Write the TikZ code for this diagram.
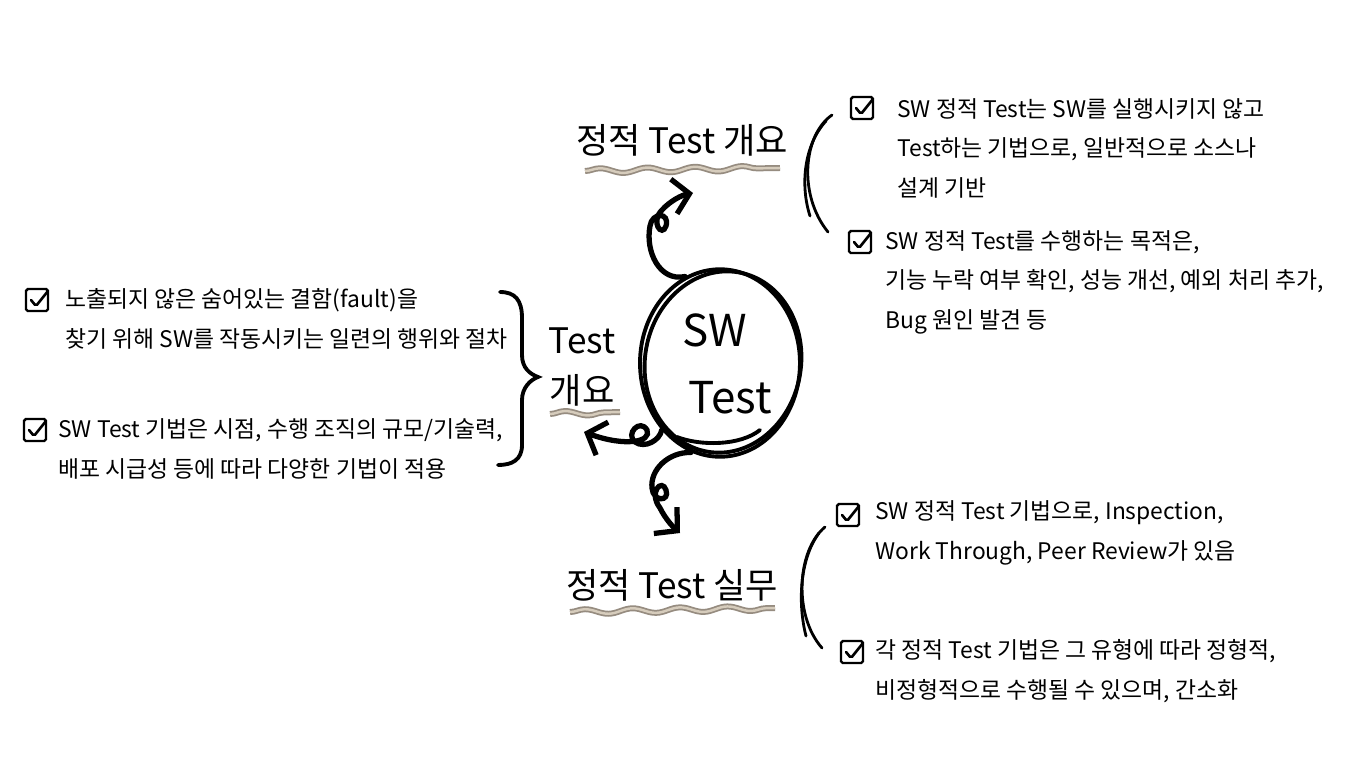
\documentclass[tikz,border=0pt]{standalone}
\usepackage{fontspec}
\setmainfont{Noto Sans CJK KR}
\usetikzlibrary{arrows.meta, shapes.geometric, decorations.pathmorphing}
\definecolor{wavetan}{RGB}{214,204,188}
\definecolor{wavegray}{RGB}{150,140,128}

\begin{document}
\begin{tikzpicture}[x=0.02cm, y=-0.02cm,
  item/.style={anchor=west, align=left, inner sep=0pt, font=\fontsize{13}{22.5}\selectfont},
  title/.style={inner sep=0pt, align=center, font=\fontsize{20}{29}\selectfont},
  big/.style={inner sep=0pt, font=\fontsize{25}{30}\selectfont},
  chk/.style={draw, line width=1.4pt, rounded corners=1pt, minimum size=0.44cm, inner sep=0pt,
              path picture={\draw[line width=1.5pt, line cap=round]
                (path picture bounding box.center) ++(-6,0) -- ++(5,6) -- ++(12,-15);}},
  curl/.style={line width=3pt, line cap=round,
               -{Straight Barb[length=9pt, width=20pt, line width=3pt]}},
  ring/.style={line width=2.2pt},
  wave/.style={decorate, decoration={snake, segment length=0.95cm, amplitude=0.05cm}},
  hand/.style={line width=1.6pt, line cap=round}
]
  \useasboundingbox (0,0) rectangle (1370,762);
  \fill[white] (0,0) rectangle (1370,762);

  % centre
  \node[draw, ring, ellipse, minimum width=3.2cm, minimum height=3.75cm, inner sep=0pt]
    (swtest) at (720,363) {};
  \draw[ring, rotate around={-10:(723,362)}] (723,362) ellipse [x radius=78, y radius=91];
  \node[big] (sw) at (715,330) {SW};
  \node[big] (test) at (730,398) {Test};
  \draw[ring, line cap=round] (677,437) .. controls (700,446) and (740,446) .. (760,430);

  % titles
  \node[title] (ttl1) at (682,140) {정적 Test 개요};
  \node[title] (ttl2) at (582,367) {Test\\개요};
  \node[title] (ttl3) at (672,585) {정적 Test 실무};

  \draw[wave, line width=3.4pt, wavegray] (585,171) -- (780,168);
  \draw[wave, line width=1.4pt, wavetan] (585,171) -- (780,168);
  \draw[wave, line width=3.4pt, wavegray] (550,414) -- (620,412);
  \draw[wave, line width=1.4pt, wavetan] (550,414) -- (620,412);
  \draw[wave, line width=3.4pt, wavegray] (570,612) -- (775,608);
  \draw[wave, line width=1.4pt, wavetan] (570,612) -- (775,608);

  % curly arrows
  \coordinate (tipT) at (693,193);
  \coordinate (tipL) at (584,432);
  \coordinate (tipB) at (680,533);
  \draw[curl] (swtest.112) .. controls (660,282) and (645,252) .. (650,226)
    .. controls (652,212) and (670,212) .. (666,226)
    .. controls (662,238) and (650,222) .. (662,210)
    .. controls (670,201) and (682,195) .. (tipT);
  \draw[curl] (swtest.229) .. controls (660,440) and (645,449) .. (635,442)
    .. controls (625,434) and (640,418) .. (647,430)
    .. controls (652,442) and (625,447) .. (tipL);
  \draw[curl] (swtest.252) .. controls (668,452) and (650,470) .. (652,488)
    .. controls (653,502) and (670,502) .. (666,490)
    .. controls (662,478) and (648,492) .. (660,508)
    .. controls (665,518) and (672,526) .. (tipB);

  % brace and arcs
  \draw[line width=2.2pt, line cap=round] (500,292) .. controls (515,292) and (522,300) .. (522,318)
    -- (522,355) .. controls (522,368) and (530,374) .. (538,377)
    .. controls (530,380) and (522,388) .. (522,400) -- (522,445)
    .. controls (522,460) and (512,465) .. (498,465);
  \draw[hand] (832,115) .. controls (803,135) and (798,195) .. (828,232);
  \draw[hand] (826,121) .. controls (804,145) and (800,185) .. (810,216);
  \draw[hand] (825,527) .. controls (797,550) and (793,615) .. (822,648);
  \draw[hand] (819,533) .. controls (799,560) and (798,605) .. (806,636);

  % items
  \node[chk] (c1) at (862,108) {};
  \node[item] (t1) at (897,148) {SW 정적 Test는 SW를 실행시키지 않고\\Test하는 기법으로, 일반적으로 소스나\\설계 기반};
  \node[chk] (c2) at (860,242) {};
  \node[item] (t2) at (885,282) {SW 정적 Test를 수행하는 목적은,\\기능 누락 여부 확인, 성능 개선, 예외 처리 추가,\\Bug 원인 발견 등};
  \node[chk] (c3) at (37,300) {};
  \node[item] (t3) at (65,319) {노출되지 않은 숨어있는 결함(fault)을\\찾기 위해 SW를 작동시키는 일련의 행위와 절차};
  \node[chk] (c4) at (35,430) {};
  \node[item] (t4) at (58,449) {SW Test 기법은 시점, 수행 조직의 규모/기술력,\\배포 시급성 등에 따라 다양한 기법이 적용};
  \node[chk] (c5) at (848,515) {};
  \node[item] (t5) at (875,533) {SW 정적 Test 기법으로, Inspection,\\Work Through, Peer Review가 있음};
  \node[chk] (c6) at (852,652) {};
  \node[item] (t6) at (875,671) {각 정적 Test 기법은 그 유형에 따라 정형적,\\비정형적으로 수행될 수 있으며, 간소화};
\end{tikzpicture}
\end{document}
